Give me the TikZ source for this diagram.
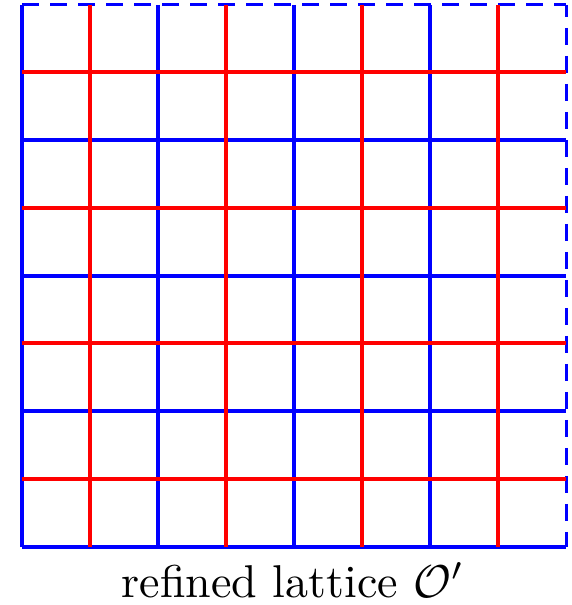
\documentclass[tikz,border=0pt]{standalone}
\begin{document}
\begin{tikzpicture}[x=1pt,y=1pt,
  blueline/.style={draw={rgb,255:red,0;green,0;blue,255},line width=3.6pt},
  redline/.style={draw={rgb,255:red,255;green,0;blue,0},line width=3.6pt},
  bluedash/.style={blueline,line width=3pt,dash pattern=on 17pt off 11pt}]
\useasboundingbox (0,0) rectangle (571,605);
% pixel coordinates: y_tikz = 605 - y_px
\def\xL{22}\def\xR{566}\def\yT{600}\def\yB{58}
% blue solid verticals
\foreach \x in {22,158,294,430} \draw[blueline] (\x,\yT) -- (\x,\yB);
% blue solid horizontals
\foreach \y in {140,276,411,547} \draw[blueline] (\xL,605-\y) -- (\xR,605-\y);
% dashed border (top, right)
\draw[bluedash] (\xL,\yT) -- (\xR,\yT);
\draw[bluedash,dash phase=5pt] (\xR,\yT) -- (\xR,\yB);
% red lines
\foreach \x in {90,226,362,498} \draw[redline] (\x,\yT) -- (\x,\yB);
\foreach \y in {72,208,343,479} \draw[redline] (\xL,605-\y) -- (\xR,605-\y);
\node[scale=4.6,transform shape,inner sep=0pt] (cap) at (293,605-580) {refined lattice $\mathcal{O}'$};
\end{tikzpicture}
\end{document}
